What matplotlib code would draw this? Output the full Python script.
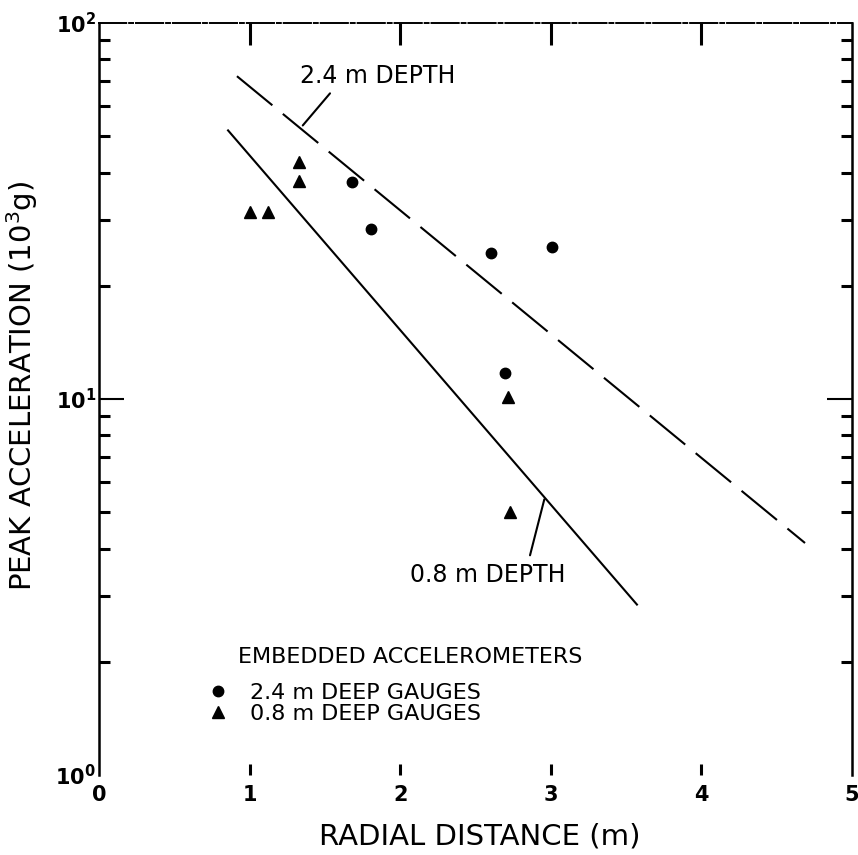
import matplotlib
matplotlib.use('Agg')
import matplotlib.pyplot as plt
from matplotlib.ticker import LogLocator, NullFormatter

plt.rcParams['font.family'] = ['DejaVu Sans']
plt.rcParams['mathtext.fontset'] = 'dejavusans'

# ---------------- data ----------------
gauge24_x = [1.678, 1.804, 2.603, 3.008, 2.696]
gauge24_y = [37.8, 28.4, 24.5, 25.4, 11.7]
gauge08_x = [1.003, 1.124, 1.330, 1.330, 2.718, 2.729]
gauge08_y = [31.5, 31.4, 42.6, 38.0, 10.1, 5.0]

fit24_x = [0.916, 4.688]
fit24_y = [72.2, 4.14]
fit08_x = [0.857, 3.572]
fit08_y = [51.8, 2.84]

x_ticks = [0, 1, 2, 3, 4, 5]
x_tick_labels = ['0', '1', '2', '3', '4', '5']
y_ticks = [1, 10, 100]
y_tick_labels = [r'$\mathbf{10^0}$', r'$\mathbf{10^1}$', r'$\mathbf{10^2}$']

label24_text = '2.4 m DEPTH'
label24_pos = (1.335, 72.2)
leader24_start = (1.534, 65.0)
leader24_end = (1.353, 53.4)
label08_text = '0.8 m DEPTH'
label08_pos = (2.065, 3.41)
leader08_start = (2.862, 3.84)
leader08_end = (2.957, 5.41)

legend_title = 'EMBEDDED ACCELEROMETERS'
series_labels = ['2.4 m DEEP GAUGES', '0.8 m DEEP GAUGES']
x_label = 'RADIAL DISTANCE (m)'
y_label = 'PEAK ACCELERATION (10$^3$g)'

# ---------------- figure ----------------
W, H = 858, 855
fig = plt.figure(figsize=(W / 100, H / 100), dpi=100)
L, R, T, B = 99, 852, 23, 775
ax = fig.add_axes([L / W, 1 - B / H, (R - L) / W, (B - T) / H])
ax.set_yscale('log')
ax.set_xlim(0, 5)
ax.set_ylim(1, 100)

ax.plot(fit24_x, fit24_y, color='k', lw=1.5, ls=(0, (22, 6.5)),
        dash_capstyle='butt')
ax.plot(fit08_x, fit08_y, color='k', lw=1.5, ls='-')
h1, = ax.plot(gauge24_x, gauge24_y, 'o', color='k', ms=7.5, ls='none',
              label=series_labels[0])
h2, = ax.plot(gauge08_x, gauge08_y, '^', color='k', ms=8.5, ls='none',
              label=series_labels[1])

# annotations
ax.text(label24_pos[0], label24_pos[1], label24_text, fontsize=17,
        ha='left', va='center')
ax.annotate('', xy=leader24_end, xytext=leader24_start,
            arrowprops=dict(arrowstyle='-', color='k', lw=1.5,
                            shrinkA=0, shrinkB=0))
ax.text(label08_pos[0], label08_pos[1], label08_text, fontsize=17,
        ha='left', va='center')
ax.annotate('', xy=leader08_end, xytext=leader08_start,
            arrowprops=dict(arrowstyle='-', color='k', lw=1.5,
                            shrinkA=0, shrinkB=0))

# legend
ax.text((238 - L) / (R - L), (B - 657) / (B - T), legend_title,
        transform=ax.transAxes, fontsize=16, ha='left', va='center')
ax.legend(handles=[h1, h2], loc='upper left',
          bbox_to_anchor=((207 - L) / (R - L), (B - 683) / (B - T)),
          frameon=False, fontsize=16, handlelength=1.0, handletextpad=0.95,
          borderpad=0, borderaxespad=0, labelspacing=0.05, markerscale=1.0)

# ticks
ax.set_xticks(x_ticks, x_tick_labels, fontweight='bold')
ax.tick_params(axis='x', which='major', direction='in', bottom=True,
               top=True, length=8, width=2.2, labelsize=15, pad=7)
for t in ax.xaxis.get_major_ticks():
    if t.get_loc() in (x_ticks[0], x_ticks[-1]):
        t.tick1line.set_visible(False)
        t.tick2line.set_visible(False)
    else:
        t.tick2line.set_markersize(16)
ax.xaxis.set_minor_locator(plt.NullLocator())

ax.set_yticks(y_ticks, y_tick_labels)
ax.yaxis.set_minor_locator(LogLocator(base=10, subs=range(2, 10)))
ax.yaxis.set_minor_formatter(NullFormatter())
ax.tick_params(axis='y', which='major', direction='in', left=True,
               right=True, length=18, width=1.5, labelsize=15, pad=2)
ax.tick_params(axis='y', which='minor', direction='in', left=True,
               right=True, length=8, width=2.2)
for t in ax.yaxis.get_major_ticks():
    if t.get_loc() in (y_ticks[0], y_ticks[-1]):
        t.tick1line.set_visible(False)
        t.tick2line.set_visible(False)

# spines
ax.spines['bottom'].set_visible(False)
ax.spines['left'].set_linewidth(1.8)
ax.spines['right'].set_linewidth(1.8)
ax.spines['top'].set_linewidth(1.4)
ax.spines['top'].set_linestyle((0, (14, 1.5, 2, 1.5)))

# axis labels
ax.set_xlabel(x_label, fontsize=21)
ax.xaxis.set_label_coords((480 - L) / (R - L), (B - 822) / (B - T))
ax.xaxis.label.set_va('top')
ax.set_ylabel(y_label, fontsize=21)
ax.yaxis.set_label_coords((40 - L) / (R - L), (B - 386) / (B - T))

fig.savefig('out.png', dpi=100)
